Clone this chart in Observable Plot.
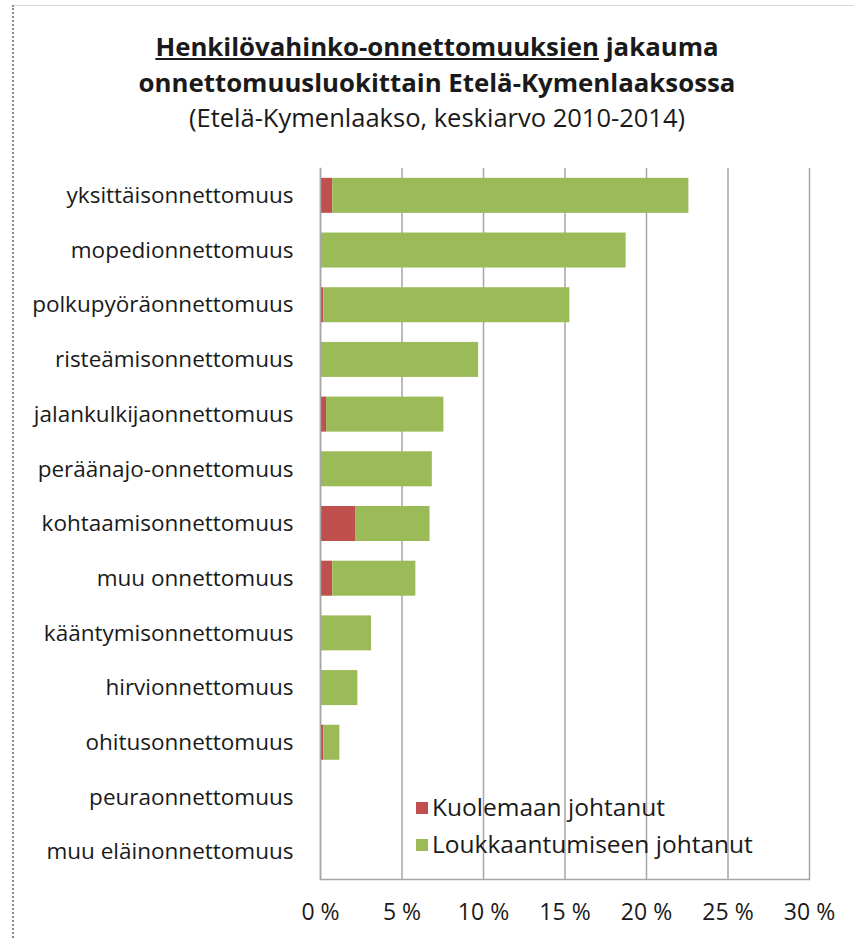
<!DOCTYPE html>
<html>
<head>
<meta charset="utf-8">
<script src="https://cdn.jsdelivr.net/npm/d3@7"></script>
<script src="https://cdn.jsdelivr.net/npm/@observablehq/plot@0.6"></script>
<style>
  html, body { margin: 0; padding: 0; background: #fff; }
  #wrap { position: relative; width: 854px; height: 938px; overflow: hidden; font-family: "Open Sans", Lato, sans-serif; color: #1a1a1a; }
  #frameTop { position: absolute; left: 13px; top: 5px; width: 841px; height: 0; border-top: 1px solid #d8d8d8; }
  #frameLeft { position: absolute; left: 12px; top: 5px; width: 0; height: 933px; border-left: 2px dotted #8a8a8a; }
  #title { position: absolute; left: 0; top: 28px; width: 874px; text-align: center; }
  #title .t { font-weight: bold; font-size: 25.8px; line-height: 36px; }
  #title .s { font-size: 25.5px; line-height: 34px; }
  #chart { position: absolute; left: 0; top: 140px; }
  #legend { position: absolute; left: 416px; top: 788px; font-size: 24.5px; line-height: 37px; }
  #legend .sw { display: inline-block; width: 12px; height: 12px; margin-right: 4px; vertical-align: 2px; }
</style>
</head>
<body>
<div id="wrap">
  <div id="frameTop"></div>
  <div id="frameLeft"></div>
  <div id="title">
    <div class="t"><span style="text-decoration: underline;">Henkilövahinko-onnettomuuksien</span> jakauma</div>
    <div class="t">onnettomuusluokittain Etelä-Kymenlaaksossa</div>
    <div class="s">(Etelä-Kymenlaakso, keskiarvo 2010-2014)</div>
  </div>
  <div id="chart"></div>
  <div id="legend"></div>
</div>
<script>
const categories = [
  "yksittäisonnettomuus",
  "mopedionnettomuus",
  "polkupyöräonnettomuus",
  "risteämisonnettomuus",
  "jalankulkijaonnettomuus",
  "peräänajo-onnettomuus",
  "kohtaamisonnettomuus",
  "muu onnettomuus",
  "kääntymisonnettomuus",
  "hirvionnettomuus",
  "ohitusonnettomuus",
  "peuraonnettomuus",
  "muu eläinonnettomuus"
];
// percent of all injury accidents
const kuolemaan = [0.75, 0, 0.2, 0, 0.37, 0, 2.15, 0.75, 0, 0, 0.2, 0, 0];
const loukkaantumiseen = [21.85, 18.75, 15.1, 9.7, 7.2, 6.86, 4.57, 5.1, 3.13, 2.29, 0.99, 0, 0];
const seriesNames = ["Kuolemaan johtanut", "Loukkaantumiseen johtanut"];
const seriesColors = ["#C0504D", "#9BBB59"];
const xTicks = [0, 5, 10, 15, 20, 25, 30];

const data = [];
categories.forEach((c, i) => {
  data.push({cat: c, series: seriesNames[0], value: kuolemaan[i]});
  data.push({cat: c, series: seriesNames[1], value: loukkaantumiseen[i]});
});

const plot = Plot.plot({
  width: 854,
  height: 798,
  marginTop: 28,
  marginBottom: 59,
  marginLeft: 320,
  marginRight: 45,
  style: {fontFamily: "'Open Sans', Lato, sans-serif", fontSize: "22px", color: "#1a1a1a", background: "transparent"},
  x: {domain: [0, 30], label: null},
  y: {domain: categories, label: null, paddingInner: 0.36, paddingOuter: 0.18, round: false},
  color: {domain: seriesNames, range: seriesColors},
  marks: [
    Plot.gridX(xTicks, {stroke: "#a6a6a6", strokeOpacity: 1, strokeWidth: 1.5}),
    Plot.barX(data, Plot.stackX({y: "cat", x: "value", fill: "series", order: seriesNames})),
    Plot.frame({anchor: "bottom", stroke: "#a6a6a6", strokeWidth: 1.5}),
    Plot.frame({anchor: "left", stroke: "#a6a6a6", strokeWidth: 1.5}),
    Plot.axisX(xTicks, {tickFormat: d => d + " %", tickSize: 0, tickPadding: 24, fontSize: 23, label: null}),
    Plot.axisY({tickSize: 0, tickPadding: 27, fontSize: 22.5, label: null})
  ]
});
document.getElementById("chart").appendChild(plot);

const legend = document.getElementById("legend");
seriesNames.forEach((n, i) => {
  const row = document.createElement("div");
  row.innerHTML = `<span class="sw" style="background:${seriesColors[i]}"></span>${n}`;
  legend.appendChild(row);
});
</script>
</body>
</html>
